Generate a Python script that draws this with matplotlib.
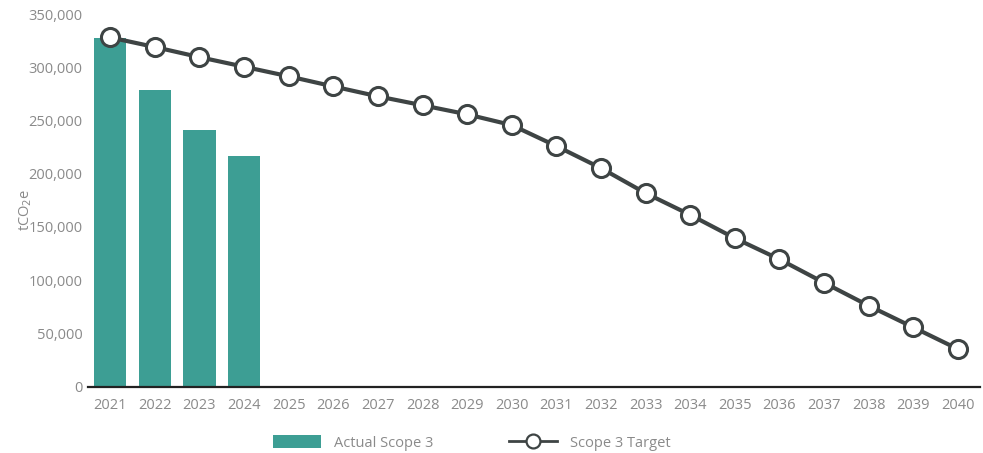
import matplotlib
matplotlib.use("Agg")
import matplotlib.pyplot as plt
from matplotlib.ticker import FuncFormatter
from matplotlib.lines import Line2D
from matplotlib.patches import Patch

years = [str(y) for y in range(2021, 2041)]
actual_years = ["2021", "2022", "2023", "2024"]
actual_scope3 = [327500, 278500, 241000, 216500]
target_scope3 = [328000, 319000, 309500, 300500, 291500, 282000, 272700, 264300, 255800, 245700,
                 226000, 205300, 181800, 161400, 139500, 119700, 97700, 76100, 55800, 35400]
yticks = [0, 50000, 100000, 150000, 200000, 250000, 300000, 350000]

plt.rcParams['font.family'] = ['Open Sans', 'DejaVu Sans']
text_color = '#8a8a8a'
bar_color = '#3d9e94'
line_color = '#3e4444'

fig = plt.figure(figsize=(9.83, 4.53), dpi=100)
ax = fig.add_axes([0.0895, 0.1464, 0.9075, 0.8226])

xpos = list(range(len(years)))
bar_x = [years.index(y) for y in actual_years]
ax.bar(bar_x, actual_scope3, width=0.72, color=bar_color, zorder=2)
ax.plot(xpos, target_scope3, color=line_color, lw=3, marker='o', markersize=13,
        markerfacecolor='white', markeredgecolor=line_color, markeredgewidth=2.2,
        zorder=3, clip_on=False)

ax.set_xlim(-0.5, len(years) - 0.5)
ax.set_ylim(0, 350000)
ax.set_yticks(yticks)
ax.yaxis.set_major_formatter(FuncFormatter(lambda v, p: f"{int(v):,}"))
ax.set_xticks(xpos)
ax.set_xticklabels(years)
ax.tick_params(axis='both', colors=text_color, labelsize=10.5, length=0)
ax.tick_params(axis='x', pad=8)
ax.tick_params(axis='y', pad=4)
for s in ['top', 'right', 'left']:
    ax.spines[s].set_visible(False)
ax.spines['bottom'].set_color('#222222')
ax.spines['bottom'].set_linewidth(1.6)
ax.set_ylabel('tCO$_2$e', color=text_color, fontsize=10.5)
ax.yaxis.set_label_coords(-0.06, 0.475)

handles = [Patch(facecolor=bar_color, edgecolor='none', label='Actual Scope 3'),
           Line2D([0], [0], color=line_color, lw=2, marker='o', markersize=10,
                  markerfacecolor='white', markeredgecolor=line_color, markeredgewidth=1.6,
                  label='Scope 3 Target')]
leg = fig.legend(handles=handles, loc='center', bbox_to_anchor=(0.48, 0.022), ncol=2, frameon=False,
                 fontsize=10.5, handlelength=3.3, handleheight=0.9, columnspacing=5.2,
                 handletextpad=0.9)
for t in leg.get_texts():
    t.set_color(text_color)

fig.savefig('out.png', dpi=100)
